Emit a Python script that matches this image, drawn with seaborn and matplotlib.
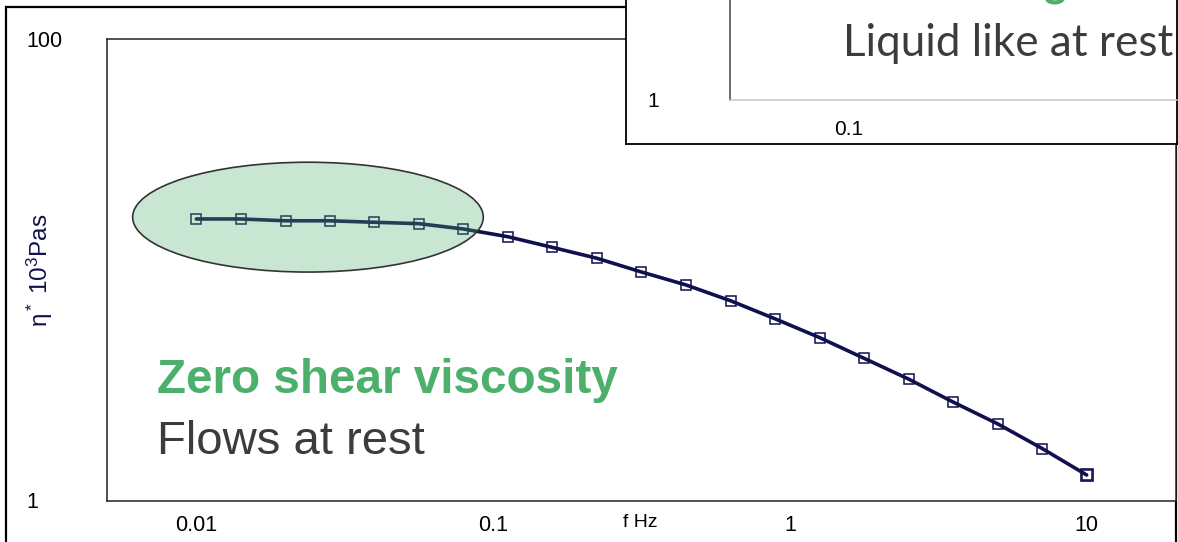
import numpy as np
import matplotlib
matplotlib.use("Agg")
import matplotlib.pyplot as plt
import seaborn as sns
from matplotlib.patches import Ellipse, Rectangle
from matplotlib.ticker import FixedLocator, NullFormatter, FixedFormatter

# Oscillation frequency sweep: complex viscosity vs frequency
freq_hz = [0.01, 0.0141, 0.02, 0.0282, 0.0398, 0.0562, 0.0794, 0.112, 0.158,
           0.224, 0.316, 0.447, 0.631, 0.891, 1.26, 1.78, 2.51, 3.55, 5.01,
           7.08, 10.0]
eta_star = [16.6, 16.6, 16.3, 16.3, 16.06, 15.84, 15.02, 13.91, 12.51, 11.21,
            9.78, 8.59, 7.34, 6.13, 5.08, 4.13, 3.36, 2.67, 2.15, 1.68, 1.29]

x_major = [0.01, 0.1, 1, 10]
x_major_labels = ["0.01", "0.1", "1", "10"]
x_minor = [0.02, 0.05, 0.2, 0.5, 2, 5]
y_major = [1, 100]
y_major_labels = ["1", "100"]
y_minor = [2, 5, 10, 20, 50]

inset_x_major = [0.1]
inset_x_major_labels = ["0.1"]
inset_x_minor = [0.2, 0.5]
inset_y_major = [1]
inset_y_major_labels = ["1"]
inset_y_minor = [2]

W, H = 1178, 542
NAVY = "#10104e"
GREEN = "#4caf6a"
DARK_GREY = "#3a3d3f"

sns.set_style("white")
plt.rcParams["font.family"] = ["Liberation Sans", "DejaVu Sans"]
plt.rcParams["mathtext.fontset"] = "custom"
plt.rcParams["mathtext.rm"] = "Liberation Sans"
plt.rcParams["mathtext.it"] = "Liberation Sans:italic"


def fig_rect(x0, y0, x1, y1):
    """Pixel box (top-left origin) -> figure fraction [left, bottom, w, h]."""
    return [x0 / W, 1 - y1 / H, (x1 - x0) / W, (y1 - y0) / H]


fig = plt.figure(figsize=(W / 100, H / 100), dpi=100)
fig.patch.set_facecolor("white")

# outer frame
fig.patches.append(Rectangle((6 / W, -0.05), (1176 - 6) / W, 1 - 7 / H + 0.05,
                             transform=fig.transFigure, fill=False,
                             edgecolor="black", linewidth=1.6, zorder=0.5))

# ---- main chart ----
ax = fig.add_axes(fig_rect(107, 39, 1176, 500.5))
ax.set_zorder(1)
sns.lineplot(x=freq_hz, y=eta_star, ax=ax, color=NAVY, linewidth=2.6,
             marker="s", markersize=6.6, markerfacecolor="none",
             markeredgecolor=NAVY, markeredgewidth=1.1, zorder=3)
# last point of the sweep marked larger
ax.plot(freq_hz[-1:], eta_star[-1:], linestyle="none", marker="s",
        markersize=8.8, markerfacecolor="none", markeredgecolor=NAVY,
        markeredgewidth=1.2, zorder=3)

ax.set_xscale("log")
ax.set_yscale("log")
ax.set_xlim(0.005, 20)
ax.set_ylim(1, 100)

ax.xaxis.set_major_locator(FixedLocator(x_major))
ax.xaxis.set_major_formatter(FixedFormatter(x_major_labels))
ax.xaxis.set_minor_locator(FixedLocator(x_minor))
ax.xaxis.set_minor_formatter(NullFormatter())
ax.yaxis.set_major_locator(FixedLocator(y_major))
ax.yaxis.set_major_formatter(FixedFormatter(y_major_labels))
ax.yaxis.set_minor_locator(FixedLocator(y_minor))
ax.yaxis.set_minor_formatter(NullFormatter())

for s in ax.spines.values():
    s.set_color("#222222")
    s.set_linewidth(1.1)

ax.tick_params(axis="both", which="both", direction="out", length=6.2,
               width=1.0, color="#222222", labelsize=15.5, labelcolor="black")
ax.tick_params(axis="x", which="both", pad=4.5)
ax.tick_params(axis="y", which="both", pad=52)
for lab in ax.get_yticklabels():
    lab.set_horizontalalignment("left")

ax.set_xlabel("f Hz", fontsize=14, color="black")
ax.xaxis.set_label_coords((640 - 107) / (1176 - 107), -0.03)
ax.set_ylabel("")
fig.text(40 / W, 1 - 270 / H, "η$^*$ 10$^3$Pas",
         rotation=90, ha="center", va="center", fontsize=17.5, color=NAVY)

# highlighted low-frequency plateau
ax.add_patch(Ellipse((0.188, 0.614), 0.328, 0.238, transform=ax.transAxes,
                     facecolor=(0.298, 0.686, 0.416, 0.30),
                     edgecolor="#333333", linewidth=1.2, zorder=4))

fig.text(157 / W, 1 - 393 / H, "Zero shear viscosity", fontsize=34.3,
         fontweight="bold", color=GREEN, ha="left", va="baseline")
fig.text(157 / W, 1 - 454 / H, "Flows at rest", fontsize=34,
         color=DARK_GREY, ha="left", va="baseline")

# ---- inset panel ----
box = fig.add_axes(fig_rect(626, -20, 1177, 144))
box.set_zorder(2)
box.set_xticks([])
box.set_yticks([])
box.set_facecolor("white")
for s in box.spines.values():
    s.set_color("black")
    s.set_linewidth(1.3)

ins = fig.add_axes(fig_rect(730, 0, 1177, 100))
ins.set_zorder(3)
ins.patch.set_alpha(0)
ins.set_xscale("log")
ins.set_yscale("log")
ins.set_xlim(0.05, 0.682)
ins.set_ylim(1, 2.716)
ins.xaxis.set_major_locator(FixedLocator(inset_x_major))
ins.xaxis.set_major_formatter(FixedFormatter(inset_x_major_labels))
ins.xaxis.set_minor_locator(FixedLocator(inset_x_minor))
ins.xaxis.set_minor_formatter(NullFormatter())
ins.yaxis.set_major_locator(FixedLocator(inset_y_major))
ins.yaxis.set_major_formatter(FixedFormatter(inset_y_major_labels))
ins.yaxis.set_minor_locator(FixedLocator(inset_y_minor))
ins.yaxis.set_minor_formatter(NullFormatter())
ins.spines["top"].set_visible(False)
ins.spines["right"].set_visible(False)
ins.spines["left"].set_color("#444444")
ins.spines["left"].set_linewidth(1.1)
ins.spines["bottom"].set_color("#c8c8c8")
ins.spines["bottom"].set_linewidth(1.1)
ins.tick_params(axis="both", which="both", direction="out", length=5.5,
                width=1.0, color="#b8b8b8", labelsize=15, labelcolor="black")
ins.tick_params(axis="y", which="both", pad=54)
ins.tick_params(axis="x", which="both", pad=9)
for lab in ins.get_yticklabels():
    lab.set_horizontalalignment("left")

fig.text(843 / W, 1 - 56 / H, "Liquid like at rest", fontsize=31.7,
         family=["Lato", "DejaVu Sans"], color=DARK_GREY, ha="left",
         va="baseline", zorder=5)
fig.text(790 / W, 1 + 4 / H, "Shear thinning", fontsize=31,
         family=["Lato", "DejaVu Sans"], fontweight="bold", color=GREEN,
         ha="left", va="baseline", zorder=5)

fig.savefig("out.png", dpi=100)
